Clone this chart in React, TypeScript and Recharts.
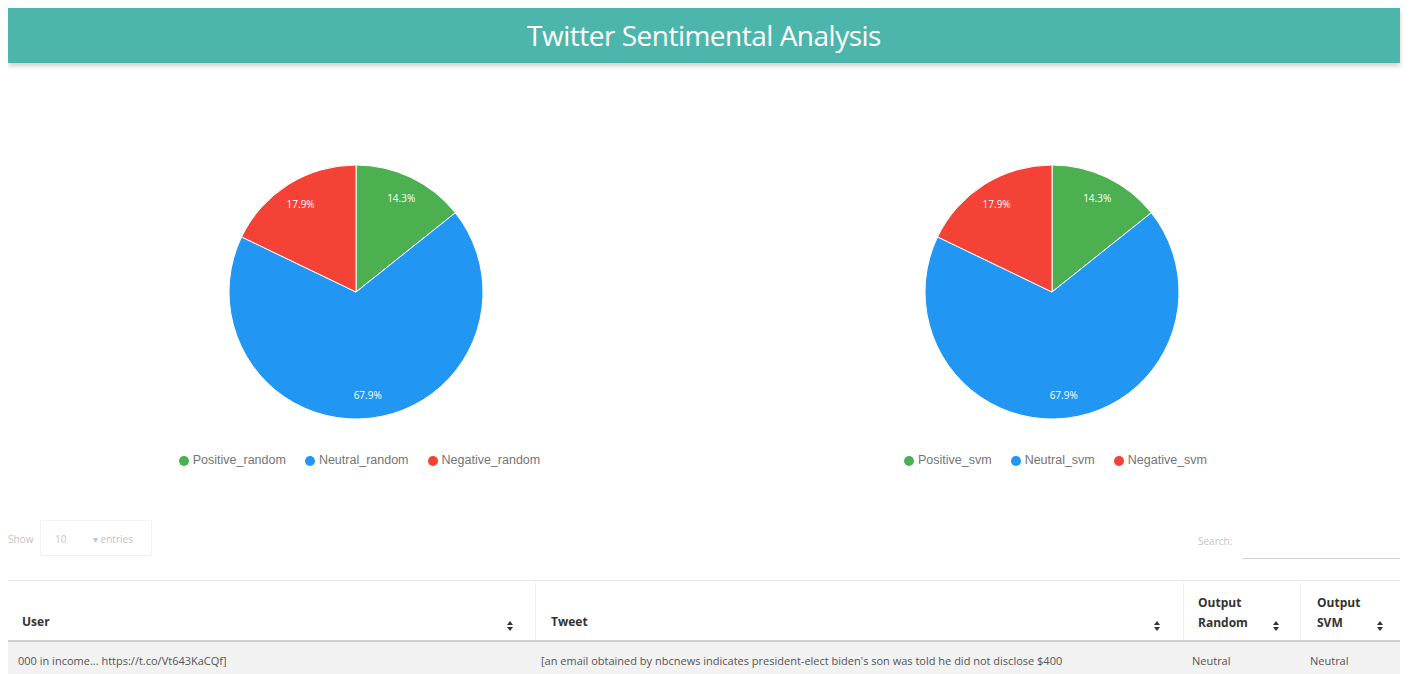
import React from 'react';
import { PieChart, Pie, Cell, Legend } from 'recharts';

// Sentiment counts per model (read from the percentages 14.3 / 67.9 / 17.9)
const randomLabels = ['Positive_random', 'Neutral_random', 'Negative_random'];
const svmLabels = ['Positive_svm', 'Neutral_svm', 'Negative_svm'];
const randomCounts = [4, 19, 5];
const svmCounts = [4, 19, 5];
const COLORS = ['#4caf50', '#2196f3', '#f44336'];

const tableHeaders = ['User', 'Tweet', 'Output Random', 'Output SVM'];
const firstRow = [
  '000 in income... https://t.co/Vt643KaCQf]',
  "[an email obtained by nbcnews indicates president-elect biden's son was told he did not disclose $400",
  'Neutral',
  'Neutral',
];

const RADIAN = Math.PI / 180;

const renderLabel = (props: any) => {
  const { cx, cy, midAngle, outerRadius, percent } = props;
  const r = outerRadius * 0.82;
  const x = cx + r * Math.cos(-midAngle * RADIAN);
  const y = cy + r * Math.sin(-midAngle * RADIAN);
  return (
    <text x={x} y={y} fill="#ffffff" fontSize={10} textAnchor="middle" dominantBaseline="central">
      {`${(percent * 100).toFixed(1)}%`}
    </text>
  );
};

const SentimentPie = ({ labels, counts }: { labels: string[]; counts: number[] }) => {
  const data = labels.map((name, i) => ({ name, value: counts[i] }));
  return (
    <PieChart width={696} height={420} margin={{ top: 0, right: 0, bottom: 0, left: 0 }}>
      <Pie
        data={data}
        dataKey="value"
        nameKey="name"
        cx={348}
        cy={229}
        outerRadius={127}
        startAngle={90}
        endAngle={-270}
        stroke="#ffffff"
        strokeWidth={1}
        label={renderLabel}
        labelLine={false}
        isAnimationActive={false}
      >
        {data.map((_, i) => (
          <Cell key={i} fill={COLORS[i]} />
        ))}
      </Pie>
      <Legend
        verticalAlign="bottom"
        align="center"
        iconType="circle"
        iconSize={10}
        itemSorter={null as any}
        wrapperStyle={{
          top: 390,
          bottom: 'auto',
          paddingLeft: 13,
          fontSize: 12.5,
          fontFamily: 'Arial, sans-serif',
        }}
        formatter={(v: string) => <span style={{ color: '#757575', marginRight: 9 }}>{v}</span>}
      />
    </PieChart>
  );
};

const SortIcon = ({ left }: { left: number }) => (
  <svg style={{ position: 'absolute', left, top: 613 }} width={6} height={10}>
    <path d="M0 4 L3 0 L6 4 Z" fill="#333" />
    <path d="M0 6 L3 10 L6 6 Z" fill="#333" />
  </svg>
);

export default function App() {
  const font = '"Open Sans", Arial, sans-serif';
  return (
    <div style={{ position: 'relative', width: 1395, height: 666, fontFamily: font, overflow: 'hidden' }}>
      {/* header band */}
      <div
        style={{
          position: 'absolute',
          left: 0,
          top: 0,
          width: 1392,
          height: 55,
          background: '#4db6ac',
          boxShadow: '0 3px 5px rgba(0,0,0,0.2)',
          color: '#ffffff',
          fontSize: 28,
          textAlign: 'center',
          lineHeight: '55px',
          fontFamily: '"Open Sans", sans-serif',
          letterSpacing: -0.5,
        }}
      >
        Twitter Sentimental Analysis
      </div>

      {/* charts */}
      <div style={{ position: 'absolute', left: 0, top: 55 }}>
        <SentimentPie labels={randomLabels} counts={randomCounts} />
      </div>
      <div style={{ position: 'absolute', left: 696, top: 55 }}>
        <SentimentPie labels={svmLabels} counts={svmCounts} />
      </div>

      {/* datatable controls */}
      <div style={{ position: 'absolute', left: 0, top: 524, fontSize: 10, color: '#c4c4c4' }}>Show</div>
      <div
        style={{
          position: 'absolute',
          left: 32,
          top: 512,
          width: 112,
          height: 36,
          border: '1px solid #f2f2f2',
          fontSize: 10,
          color: '#c4c4c4',
          boxSizing: 'border-box',
        }}
      >
        <span style={{ position: 'absolute', left: 14, top: 11 }}>10</span>
        <span style={{ position: 'absolute', left: 52, top: 11 }}>▾ entries</span>
      </div>
      <div style={{ position: 'absolute', left: 1190, top: 526, fontSize: 10, color: '#c4c4c4' }}>Search:</div>
      <div style={{ position: 'absolute', left: 1235, top: 550, width: 157, height: 1, background: '#cfcfcf' }} />

      {/* table */}
      <div style={{ position: 'absolute', left: 0, top: 572, width: 1392, height: 1, background: '#e6e6e6' }} />
      <div style={{ position: 'absolute', left: 527, top: 575, width: 1, height: 58, background: '#f0f0f0' }} />
      <div style={{ position: 'absolute', left: 1175, top: 575, width: 1, height: 58, background: '#f0f0f0' }} />
      <div style={{ position: 'absolute', left: 1292, top: 575, width: 1, height: 58, background: '#f0f0f0' }} />
      <div style={{ fontSize: 12, fontWeight: 'bold', color: '#333' }}>
        <div style={{ position: 'absolute', left: 14, top: 605 }}>{tableHeaders[0]}</div>
        <div style={{ position: 'absolute', left: 543, top: 605 }}>{tableHeaders[1]}</div>
        <div style={{ position: 'absolute', left: 1190, top: 585, width: 60, lineHeight: '20px' }}>
          {tableHeaders[2]}
        </div>
        <div style={{ position: 'absolute', left: 1309, top: 585, width: 50, lineHeight: '20px' }}>
          {tableHeaders[3]}
        </div>
      </div>
      <SortIcon left={499} />
      <SortIcon left={1146} />
      <SortIcon left={1265} />
      <SortIcon left={1369} />
      <div style={{ position: 'absolute', left: 0, top: 632, width: 1392, height: 2, background: '#cfcfcf' }} />
      <div style={{ position: 'absolute', left: 0, top: 634, width: 1392, height: 40, background: '#f2f2f2' }} />
      <div style={{ fontSize: 11, color: '#555' }}>
        <div style={{ position: 'absolute', left: 10, top: 645 }}>{firstRow[0]}</div>
        <div style={{ position: 'absolute', left: 533, top: 645 }}>{firstRow[1]}</div>
        <div style={{ position: 'absolute', left: 1184, top: 645 }}>{firstRow[2]}</div>
        <div style={{ position: 'absolute', left: 1302, top: 645 }}>{firstRow[3]}</div>
      </div>
    </div>
  );
}
